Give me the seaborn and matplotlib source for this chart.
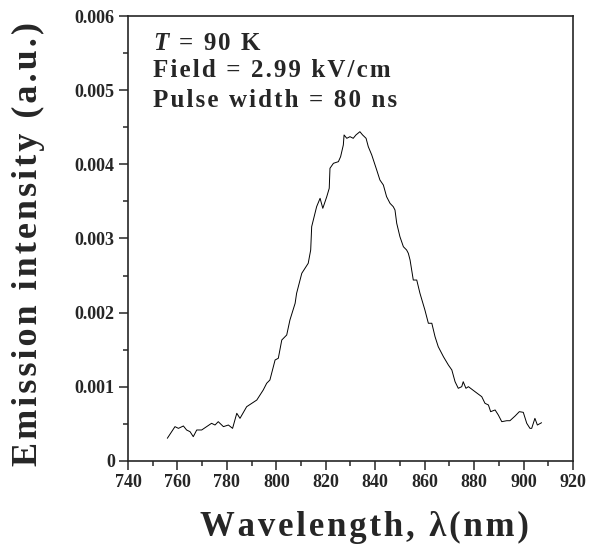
import numpy as np
import pandas as pd
import matplotlib
matplotlib.use("Agg")
import matplotlib.pyplot as plt
import seaborn as sns
from matplotlib.ticker import MultipleLocator, FixedLocator

# spectrum
wavelength = [755.9, 759.0, 760.4, 762.4, 763.7, 765.1, 766.4, 767.8, 769.8, 771.8,
              773.8, 775.2, 776.5, 778.6, 780.6, 782.3, 784.0, 785.3, 788.0, 792.1,
              794.7, 796.1, 797.4, 799.5, 800.8, 802.2, 804.2, 805.5, 807.6, 808.2,
              810.3, 812.9, 813.9, 814.3, 816.3, 817.7, 818.8, 820.4, 821.4, 821.7,
              823.1, 825.1, 826.0, 827.1, 827.4, 828.5, 829.8, 831.1, 832.2, 833.8,
              834.9, 836.3, 837.2, 838.6, 840.6, 841.9, 843.3, 844.6, 846.0, 847.3,
              848.0, 848.7, 850.0, 851.4, 852.7, 853.4, 854.1, 855.4, 856.8, 858.1,
              860.1, 861.5, 862.9, 864.2, 865.5, 867.6, 869.6, 871.0, 872.3, 873.6,
              875.0, 875.6, 876.7, 877.7, 880.4, 883.1, 884.4, 885.8, 886.7, 888.5,
              889.8, 891.2, 893.2, 894.5, 896.6, 898.3, 899.9, 901.3, 902.6, 903.3,
              904.6, 905.6, 907.3]
intensity = [0.000306, 0.000463, 0.000440, 0.000472, 0.000418, 0.000395, 0.000328, 0.000418, 0.000418, 0.000463,
             0.000508, 0.000485, 0.000530, 0.000463, 0.000485, 0.000440, 0.000643, 0.000575, 0.000732, 0.000822,
             0.000957, 0.001048, 0.001092, 0.001362, 0.001385, 0.001631, 0.001699, 0.001901, 0.002126, 0.002261,
             0.002531, 0.002666, 0.002845, 0.003160, 0.003429, 0.003542, 0.003407, 0.003564, 0.003677, 0.003947,
             0.004014, 0.004036, 0.004103, 0.004261, 0.004396, 0.004351, 0.004373, 0.004351, 0.004396, 0.004440,
             0.004396, 0.004351, 0.004238, 0.004126, 0.003924, 0.003789, 0.003721, 0.003564, 0.003474, 0.003429,
             0.003384, 0.003205, 0.003024, 0.002889, 0.002845, 0.002800, 0.002710, 0.002440, 0.002440, 0.002261,
             0.002036, 0.001857, 0.001857, 0.001676, 0.001541, 0.001406, 0.001294, 0.001227, 0.001069, 0.000980,
             0.001002, 0.001069, 0.000980, 0.001002, 0.000934, 0.000867, 0.000778, 0.000755, 0.000665, 0.000688,
             0.000620, 0.000530, 0.000543, 0.000543, 0.000607, 0.000665, 0.000656, 0.000508, 0.000440, 0.000440,
             0.000575, 0.000485, 0.000516]

x_ticks = [740, 760, 780, 800, 820, 840, 860, 880, 900, 920]
y_ticks = [0, 0.001, 0.002, 0.003, 0.004, 0.005, 0.006]
y_tick_labels = ["0", "0.001", "0.002", "0.003", "0.004", "0.005", "0.006"]

df = pd.DataFrame({"wavelength": wavelength, "intensity": intensity})


def spaced(s):
    # the original uses loose letter spacing
    return "\u200a".join(s)


sns.set_style("ticks")
plt.rcParams["font.family"] = ["Liberation Serif", "DejaVu Serif"]
plt.rcParams["mathtext.fontset"] = "custom"
plt.rcParams["mathtext.it"] = "Liberation Serif:italic:bold"
plt.rcParams["mathtext.rm"] = "Liberation Serif:bold"

fig = plt.figure(figsize=(5.91, 5.54), dpi=100)
ax = fig.add_axes([0.2166, 0.1679, 0.9695 - 0.2166, 0.9711 - 0.1679])

sns.lineplot(data=df, x="wavelength", y="intensity", ax=ax, color="black",
             linewidth=0.7, estimator=None, sort=False)

ax.set_xlim(740, 920)
ax.set_ylim(0, 0.006)
ax.xaxis.set_major_locator(FixedLocator(x_ticks))
ax.xaxis.set_minor_locator(MultipleLocator(10))
ax.yaxis.set_major_locator(FixedLocator(y_ticks))
ax.yaxis.set_minor_locator(MultipleLocator(0.0005))
ax.set_yticklabels(y_tick_labels)
ax.tick_params(which="major", direction="out", length=6.5, width=1.1, labelsize=13, pad=3)
ax.tick_params(which="minor", direction="out", length=3.5, width=1.1)
for lab in ax.get_xticklabels() + ax.get_yticklabels():
    lab.set_fontweight("bold")
for s in ax.spines.values():
    s.set_visible(True)
    s.set_linewidth(1.2)

ax.set_xlabel(spaced("Wavelength, λ(nm)"), fontsize=25, fontweight="bold")
ax.set_ylabel(spaced("Emission intensity (a.u.)"), fontsize=26, fontweight="bold")
ax.xaxis.set_label_coords(0.532, -0.113)
ax.yaxis.set_label_coords(-0.186, 0.488)

ax.text(0.056, 0.9236, r"$T$" + "\u200a" + spaced(" = 90 K"), transform=ax.transAxes,
        fontsize=18, fontweight="bold", va="baseline")
ax.text(0.056, 0.8629, spaced("Field = 2.99 kV/cm"), transform=ax.transAxes,
        fontsize=18, fontweight="bold", va="baseline")
ax.text(0.056, 0.7955, spaced("Pulse width = 80 ns"), transform=ax.transAxes,
        fontsize=18, fontweight="bold", va="baseline")

fig.savefig("out.png", dpi=100)
